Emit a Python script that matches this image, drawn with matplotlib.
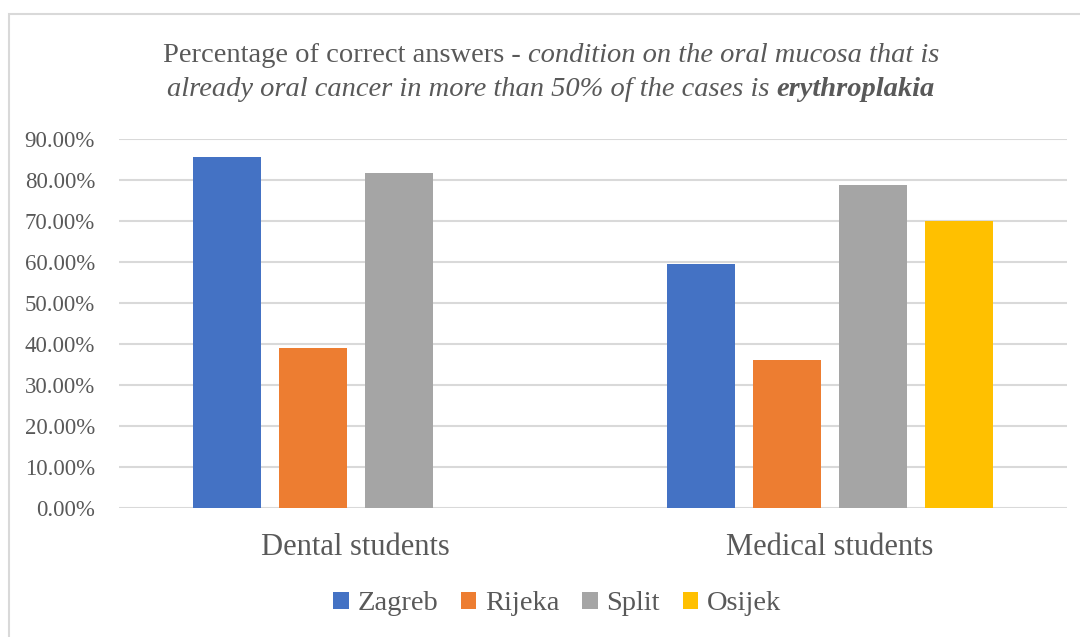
#--------------------------------------------------
# 正答率の棒グラフ (Dental / Medical students, 4 cities)
#--------------------------------------------------
import matplotlib as mpl
mpl.use("Agg")
import matplotlib.pyplot as plt
import numpy as np
from matplotlib.ticker import FuncFormatter
from matplotlib.patches import Rectangle

#--------------------------------------------------
# データ
#--------------------------------------------------
categories = ['Dental students', 'Medical students']
cities = ['Zagreb', 'Rijeka', 'Split', 'Osijek']
zagreb = [85.7, 59.6]
rijeka = [39.0, 36.0]
split = [81.8, 78.8]
osijek = [np.nan, 70.0]   # dentalのOsijekはデータなし
y_ticks = [0, 10, 20, 30, 40, 50, 60, 70, 80, 90]

colors = ['#4472C4', '#ED7D31', '#A5A5A5', '#FFC000']
text_color = '#595959'
grid_color = '#D9D9D9'
font = 'Liberation Serif'

plt.rcParams['font.family'] = [font, 'DejaVu Serif']

#--------------------------------------------------
# グラフを描画
#--------------------------------------------------
fig = plt.figure(figsize=(10.8, 6.37), dpi=100)
ax = fig.add_axes([0.1099, 0.203, 0.878, 0.5788])

# 外枠 (左と上だけ見える)
fig.patches.append(Rectangle((9 / 1080, -0.1), 1.2, (1 - 14 / 637) + 0.1,
                             transform=fig.transFigure, fill=False,
                             edgecolor=grid_color, linewidth=1.5))

x = np.arange(len(categories))
step = 0.1814
width = 0.1435
series = [zagreb, rijeka, split, osijek]
for i, (name, vals) in enumerate(zip(cities, series)):
    ax.bar(x + (i - 1.5) * step, vals, width, color=colors[i], label=name, zorder=3)

ax.set_xlim(-0.5, 1.5)
ax.set_ylim(0, 90)
ax.set_yticks(y_ticks)
ax.yaxis.set_major_formatter(FuncFormatter(lambda v, p: f'{v:.2f}%'))
ax.set_xticks(x)
ax.set_xticklabels(categories)
ax.tick_params(axis='y', length=0, pad=17, labelsize=16.5, labelcolor=text_color)
ax.tick_params(axis='x', length=0, pad=18, labelsize=22, labelcolor=text_color)
ax.grid(axis='y', color=grid_color, linewidth=1.5, zorder=0)
ax.set_axisbelow(True)
for s in ax.spines.values():
    s.set_visible(False)

# タイトル (書体が混在するので部品ごとに並べる)
def draw_line(parts, cx, cy, size):
    r = fig.canvas.get_renderer()
    texts = []
    for s, style, weight in parts:
        t = fig.text(0, cy, s, fontsize=size, style=style, weight=weight,
                     color=text_color, va='center', ha='left')
        texts.append(t)
    widths = [t.get_window_extent(r).width for t in texts]
    total = sum(widths)
    left = cx * 1080 - total / 2
    for t, w in zip(texts, widths):
        t.set_x(left / 1080)
        left += w

title_size = 20.5
draw_line([('Percentage of correct answers - ', 'normal', 'normal'),
           ('condition on the oral mucosa that is', 'italic', 'normal')],
          551 / 1080, 1 - 55 / 637, title_size)
draw_line([('already oral cancer in more than 50% of the cases is ', 'italic', 'normal'),
           ('erythroplakia', 'italic', 'bold')],
          551 / 1080, 1 - 90 / 637, title_size)

# 凡例
fig.legend(loc='center', bbox_to_anchor=(557 / 1080, 1 - 604 / 637), ncol=4,
           frameon=False, fontsize=20.5, labelcolor=text_color,
           handlelength=0.55, handleheight=0.55, handletextpad=0.3, columnspacing=0.8)

fig.savefig('out.png', dpi=100)
